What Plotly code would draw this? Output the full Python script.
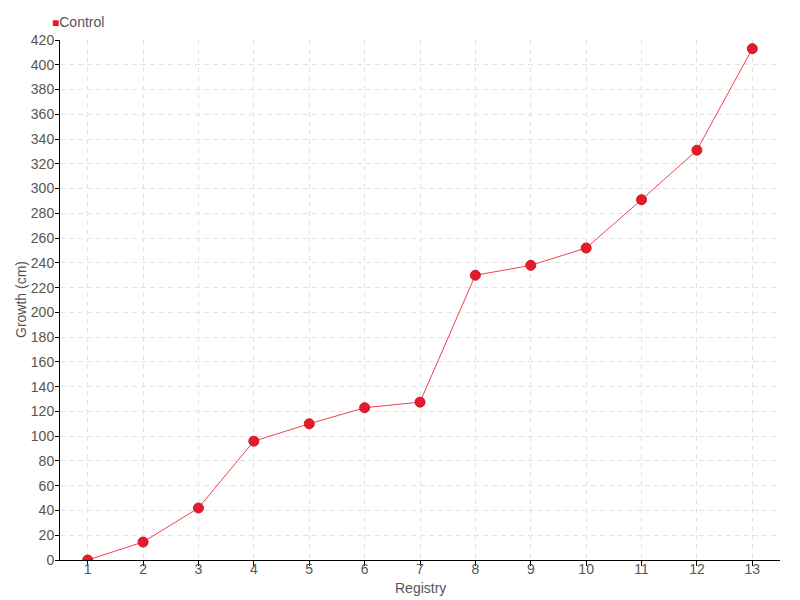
import plotly.graph_objects as go

categories = [str(i) for i in range(1, 14)]
control = [0, 14.5, 42, 96, 110, 123, 127.5, 230, 238, 252, 291, 331, 413]
yticks = list(range(0, 421, 20))

FONT = "Liberation Sans Narrow, Liberation Sans, sans-serif"
TXT = "#555555"

fig = go.Figure()
fig.add_trace(go.Scatter(
    x=categories, y=control, mode="lines+markers", name="Control",
    line=dict(color="#f2404f", width=1),
    marker=dict(color="#e31b2b", size=10, line=dict(color="#d01525", width=1)),
    showlegend=False,
))

grid = dict(showgrid=True, gridcolor="#e3e3e3", griddash="5px,4px", gridwidth=1)

fig.update_layout(
    width=792, height=592,
    margin=dict(l=52, r=20, t=32, b=40),
    plot_bgcolor="white", paper_bgcolor="white",
    font=dict(family=FONT, size=14, color=TXT),
    xaxis=dict(type="category", range=[-0.5, 12.5], showline=True, linecolor="black",
               linewidth=1, ticks="outside", ticklen=5, tickcolor="black",
               ticklabelstandoff=-9, automargin=False,
               zeroline=False, **grid),
    yaxis=dict(range=[0, 420], tickvals=yticks, showline=True, linecolor="black",
               linewidth=1, ticks="outside", ticklen=4, tickcolor="black",
               ticklabelstandoff=-2, automargin=False,
               zeroline=False, **grid),
    annotations=[
        dict(xref="paper", yref="paper", x=-0.014, y=1.035, xanchor="left", yanchor="middle",
             text="<span style='color:#e31b2b;font-size:12px'>■</span>Control",
             showarrow=False, font=dict(size=14, color=TXT)),
        dict(xref="paper", yref="paper", x=0.5, y=-28 / 520, xanchor="center", yanchor="middle",
             text="Registry", showarrow=False, font=dict(size=14, color=TXT)),
        dict(xref="paper", yref="paper", x=-39 / 720, y=0.5, xanchor="center", yanchor="middle",
             text="Growth (cm)", textangle=-90, showarrow=False, font=dict(size=14, color=TXT)),
    ],
)

fig.write_html("out.html")
